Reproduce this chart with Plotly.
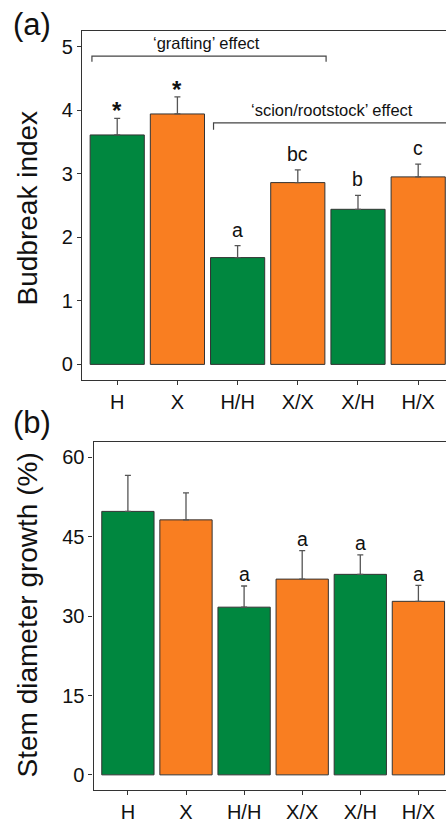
import plotly.graph_objects as go

categories = ["H", "X", "H/H", "X/X", "X/H", "H/X"]
bar_colors = ["#00873F", "#F97E21", "#00873F", "#F97E21", "#00873F", "#F97E21"]

budbreak_mean = [3.61, 3.94, 1.68, 2.86, 2.44, 2.95]
budbreak_se = [0.26, 0.27, 0.19, 0.20, 0.22, 0.20]
budbreak_labels = ["*", "*", "a", "bc", "b", "c"]

stem_mean = [49.8, 48.2, 31.7, 37.0, 37.9, 32.8]
stem_se = [6.8, 5.1, 4.0, 5.4, 3.7, 3.0]
stem_labels = ["", "", "a", "a", "a", "a"]

a_ticks = [0, 1, 2, 3, 4, 5]
b_ticks = [0, 15, 30, 45, 60]

FONT = "Liberation Sans, Arial, sans-serif"
LINE = "#333333"
W, H = 446, 823

fig = go.Figure()

def add_bars(means, ses, xa, ya):
    fig.add_trace(go.Bar(
        x=categories, y=means, xaxis=xa, yaxis=ya, width=0.9,
        marker=dict(color=bar_colors, line=dict(color=LINE, width=1)),
        error_y=dict(type="data", symmetric=False, array=ses,
                     arrayminus=[0] * len(ses), color="#555555",
                     thickness=1.3, width=3),
        showlegend=False, hoverinfo="x+y"))

add_bars(budbreak_mean, budbreak_se, "x", "y")
add_bars(stem_mean, stem_se, "x2", "y2")

ann = []
# significance labels panel a
for i, (m, s, lab) in enumerate(zip(budbreak_mean, budbreak_se, budbreak_labels)):
    if not lab:
        continue
    off = 0.12 if lab == "*" else 0.25
    ann.append(dict(x=i, y=m + s + off, xref="x", yref="y",
                    text="<b>*</b>" if lab == "*" else lab,
                    showarrow=False, yanchor="middle",
                    font=dict(family=FONT, size=24 if lab == "*" else 19.5, color="#111")))
for i, (m, s, lab) in enumerate(zip(stem_mean, stem_se, stem_labels)):
    if not lab:
        continue
    ann.append(dict(x=i, y=m + s + 2.2, xref="x2", yref="y2", text=lab,
                    showarrow=False, yanchor="middle",
                    font=dict(family=FONT, size=19.5, color="#111")))

# bracket texts
ann.append(dict(x=1.49, y=5.05, xref="x", yref="y", text="\u2018grafting\u2019 effect",
                showarrow=False, yanchor="middle",
                font=dict(family=FONT, size=16.5, color="#111")))
ann.append(dict(x=3.56, y=4.0, xref="x", yref="y", text="\u2018scion/rootstock\u2019 effect",
                showarrow=False, yanchor="middle",
                font=dict(family=FONT, size=16.5, color="#111")))

# panel labels
ann.append(dict(x=32 / W, y=1 - 25 / H, xref="paper", yref="paper", text="(a)",
                showarrow=False, xanchor="center", yanchor="middle",
                font=dict(family=FONT, size=31, color="#111")))
ann.append(dict(x=32 / W, y=1 - 427 / H, xref="paper", yref="paper", text="(b)",
                showarrow=False, xanchor="center", yanchor="middle",
                font=dict(family=FONT, size=31, color="#111")))

# y titles
ann.append(dict(x=27.5 / W, y=1 - 210 / H, xref="paper", yref="paper",
                text="Budbreak index", textangle=-90, showarrow=False,
                xanchor="center", yanchor="middle",
                font=dict(family=FONT, size=28, color="#111")))
ann.append(dict(x=27.5 / W, y=1 - 621 / H, xref="paper", yref="paper",
                text="Stem diameter growth (%)", textangle=-90, showarrow=False,
                xanchor="center", yanchor="middle",
                font=dict(family=FONT, size=28, color="#111")))

shapes = []
def bracket(x0, x1, y, ylow, left=True, right=True):
    pts = []
    if left:
        pts.append(f"M {x0} {ylow} L {x0} {y}")
    else:
        pts.append(f"M {x0} {y}")
    pts.append(f"L {x1} {y}")
    if right:
        pts.append(f"L {x1} {ylow}")
    shapes.append(dict(type="path", path=" ".join(pts), xref="x", yref="y",
                       line=dict(color="#444444", width=1.2)))

bracket(-0.42, 3.47, 4.85, 4.76)
bracket(1.6, 5.52, 3.80, 3.69, right=False)

axis_common = dict(showline=True, linecolor=LINE, linewidth=1.2, mirror=False,
                   ticks="outside", ticklen=4, tickwidth=1, tickcolor=LINE,
                   showgrid=False, zeroline=False,
                   tickfont=dict(family=FONT, size=20, color="#111"))

fig.update_layout(
    width=W, height=H, margin=dict(l=0, r=0, t=0, b=0),
    paper_bgcolor="white", plot_bgcolor="white",
    bargap=0.1,
    annotations=ann, shapes=shapes,
    xaxis=dict(**axis_common, domain=[82 / W, 1], anchor="y",
               range=[-0.585, 5.462], type="category",
               categoryorder="array", categoryarray=categories),
    yaxis=dict(**axis_common, domain=[1 - 384 / H, 1 - 31 / H], anchor="x",
               range=[-0.25, 5.25], tickvals=a_ticks),
    xaxis2=dict(**axis_common, domain=[93.5 / W, 1], anchor="y2",
                range=[-0.592, 5.475], type="category",
                categoryorder="array", categoryarray=categories),
    yaxis2=dict(**axis_common, domain=[1 - 797.7 / H, 1 - 446.7 / H], anchor="x2",
                range=[-2.85, 62.85], tickvals=b_ticks),
)
# top border lines (panel frame)
fig.update_layout(xaxis_mirror=True, xaxis2_mirror=True)

fig.write_html("out.html")
